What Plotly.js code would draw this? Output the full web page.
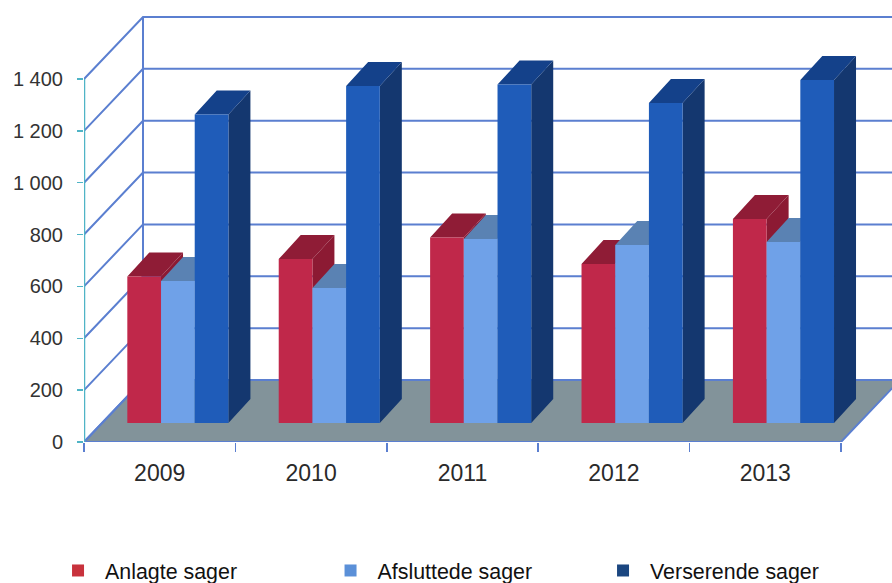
<!DOCTYPE html>
<html>
<head>
<meta charset="utf-8">
<script src="https://cdn.plot.ly/plotly-3.0.1.min.js"></script>
<style>html,body{margin:0;padding:0;background:#fff;overflow:hidden}#chart{width:892px;height:583px}</style>
</head>
<body>
<div id="chart"></div>
<script>
const categories = ['2009', '2010', '2011', '2012', '2013'];
const anlagte = [565, 632, 715, 613, 787];
const afsluttede = [548, 521, 710, 686, 698];
const verserende = [1190, 1300, 1305, 1234, 1323];
const yTickVals = [0, 200, 400, 600, 800, 1000, 1200, 1400];
const yTickText = ['0', '200', '400', '600', '800', '1 000', '1 200', '1 400'];
const seriesNames = ['Anlagte sager', 'Afsluttede sager', 'Verserende sager'];
const frontColors = ['#c0284a', '#6fa1e8', '#1f5cb9'];
const topColors = ['#8f1c36', '#5a82b3', '#14418a'];
const sideColors = ['#8c1a33', '#4f76a8', '#14376f'];
const legendColors = ['#c8323c', '#5b90d8', '#1b4680'];

const pxX = 151.4, pxY = 0.2593;
const wallDx = 59 / pxX, wallDy = 62 / pxY;
const barDx = 22 / pxX, barDy = 24 / pxY;
const barBase = 19 / pxY, barW = 33.7 / pxX, groupCenter = 0.62;
const nCat = categories.length;
const yMax = yTickVals[yTickVals.length - 1];
const gridColor = '#5b7fd0', axisCyan = '#4fb4c6';

const series = [anlagte, afsluttede, verserende];
const traces = [];

// floor
traces.push({x: [0, nCat, nCat + wallDx, wallDx, 0], y: [0, 0, wallDy, wallDy, 0], mode: 'lines',
  fill: 'toself', fillcolor: '#82939a', line: {color: gridColor, width: 2}, hoverinfo: 'skip', showlegend: false});

// wall grid lines
const gx = [], gy = [];
yTickVals.forEach(v => {
  gx.push(0, wallDx, nCat + wallDx, null);
  gy.push(v, v + wallDy, v + wallDy, null);
});
gx.push(wallDx, wallDx, null);
gy.push(wallDy, yMax + wallDy, null);
traces.push({x: gx, y: gy, mode: 'lines', line: {color: gridColor, width: 2}, hoverinfo: 'skip', showlegend: false});

// axis lines
traces.push({x: [0, nCat], y: [0, 0], mode: 'lines', line: {color: gridColor, width: 2}, cliponaxis: false, hoverinfo: 'skip', showlegend: false});
traces.push({x: [0, 0], y: [0, yMax], mode: 'lines', line: {color: axisCyan, width: 2.5}, cliponaxis: false, hoverinfo: 'skip', showlegend: false});

// top and side faces, left to right, through the same axes
series.forEach((vals, s) => {
  const tx = [], ty = [], sx = [], sy = [];
  vals.forEach((v, k) => {
    const x0 = k + groupCenter + (s - 1.5) * barW, x1 = x0 + barW;
    const yb = barBase, yt = barBase + v;
    tx.push(x0, x1, x1 + barDx, x0 + barDx, x0, null);
    ty.push(yt, yt, yt + barDy, yt + barDy, yt, null);
    sx.push(x1, x1 + barDx, x1 + barDx, x1, x1, null);
    sy.push(yb, yb + barDy, yt + barDy, yt, yb, null);
  });
  traces.push({x: sx, y: sy, mode: 'lines', fill: 'toself', fillcolor: sideColors[s], line: {width: 0}, hoverinfo: 'skip', showlegend: false});
  traces.push({x: tx, y: ty, mode: 'lines', fill: 'toself', fillcolor: topColors[s], line: {width: 0}, hoverinfo: 'skip', showlegend: false});
});

// front faces on the overlay subplot
series.forEach((vals, s) => {
  traces.push({type: 'bar', x: vals.map((_, k) => k + groupCenter), y: vals, base: barBase,
    width: barW, offset: (s - 1.5) * barW, name: seriesNames[s], xaxis: 'x2', yaxis: 'y2',
    marker: {color: frontColors[s], line: {width: 0}}, showlegend: false});
});

// legend entries
seriesNames.forEach((n, s) => {
  traces.push({x: [null], y: [null], mode: 'markers', name: n, xaxis: 'x2', yaxis: 'y2',
    marker: {symbol: 'square', size: 12, color: legendColors[s]}, showlegend: true});
});

const xRange = [0, 808 / pxX], yRange = [0, 442 / pxY];
const layout = {
  width: 892, height: 583,
  margin: {l: 84, r: 0, t: 0, b: 141, autoexpand: false},
  paper_bgcolor: '#fff', plot_bgcolor: '#fff',
  font: {family: 'Liberation Sans, Arial, sans-serif', color: '#333'},
  barmode: 'overlay',
  hovermode: false,
  xaxis: {range: xRange, showgrid: false, zeroline: false, showline: false,
    tickmode: 'array', tickvals: categories.map((_, k) => k + 0.5), ticktext: categories,
    ticks: '', ticklabelstandoff: 15, tickfont: {size: 23, color: '#2a2a2a'},
    minor: {tickmode: 'array', tickvals: [0, 1, 2, 3, 4, 5], ticks: 'outside', ticklen: 9, tickwidth: 1.5, tickcolor: gridColor, showgrid: false}},
  yaxis: {range: yRange, showgrid: false, zeroline: false, showline: false,
    tickmode: 'array', tickvals: yTickVals, ticktext: yTickText,
    ticks: 'outside', ticklen: 6, tickwidth: 1.5, tickcolor: axisCyan,
    ticklabelstandoff: 10, tickfont: {size: 20, color: '#333'}},
  xaxis2: {overlaying: 'x', range: xRange, visible: false, anchor: 'y2'},
  yaxis2: {overlaying: 'y', range: yRange, visible: false, anchor: 'x2'},
  legend: {orientation: 'h', x: -0.0408, xanchor: 'left', y: -0.2445, yanchor: 'top',
    entrywidth: 213.5, entrywidthmode: 'pixels', itemwidth: 44, traceorder: 'normal',
    font: {size: 21.4, color: '#111'}, bgcolor: 'rgba(0,0,0,0)'},
  showlegend: true
};
Plotly.newPlot('chart', traces, layout, {displayModeBar: false, staticPlot: true});
</script>
</body>
</html>
